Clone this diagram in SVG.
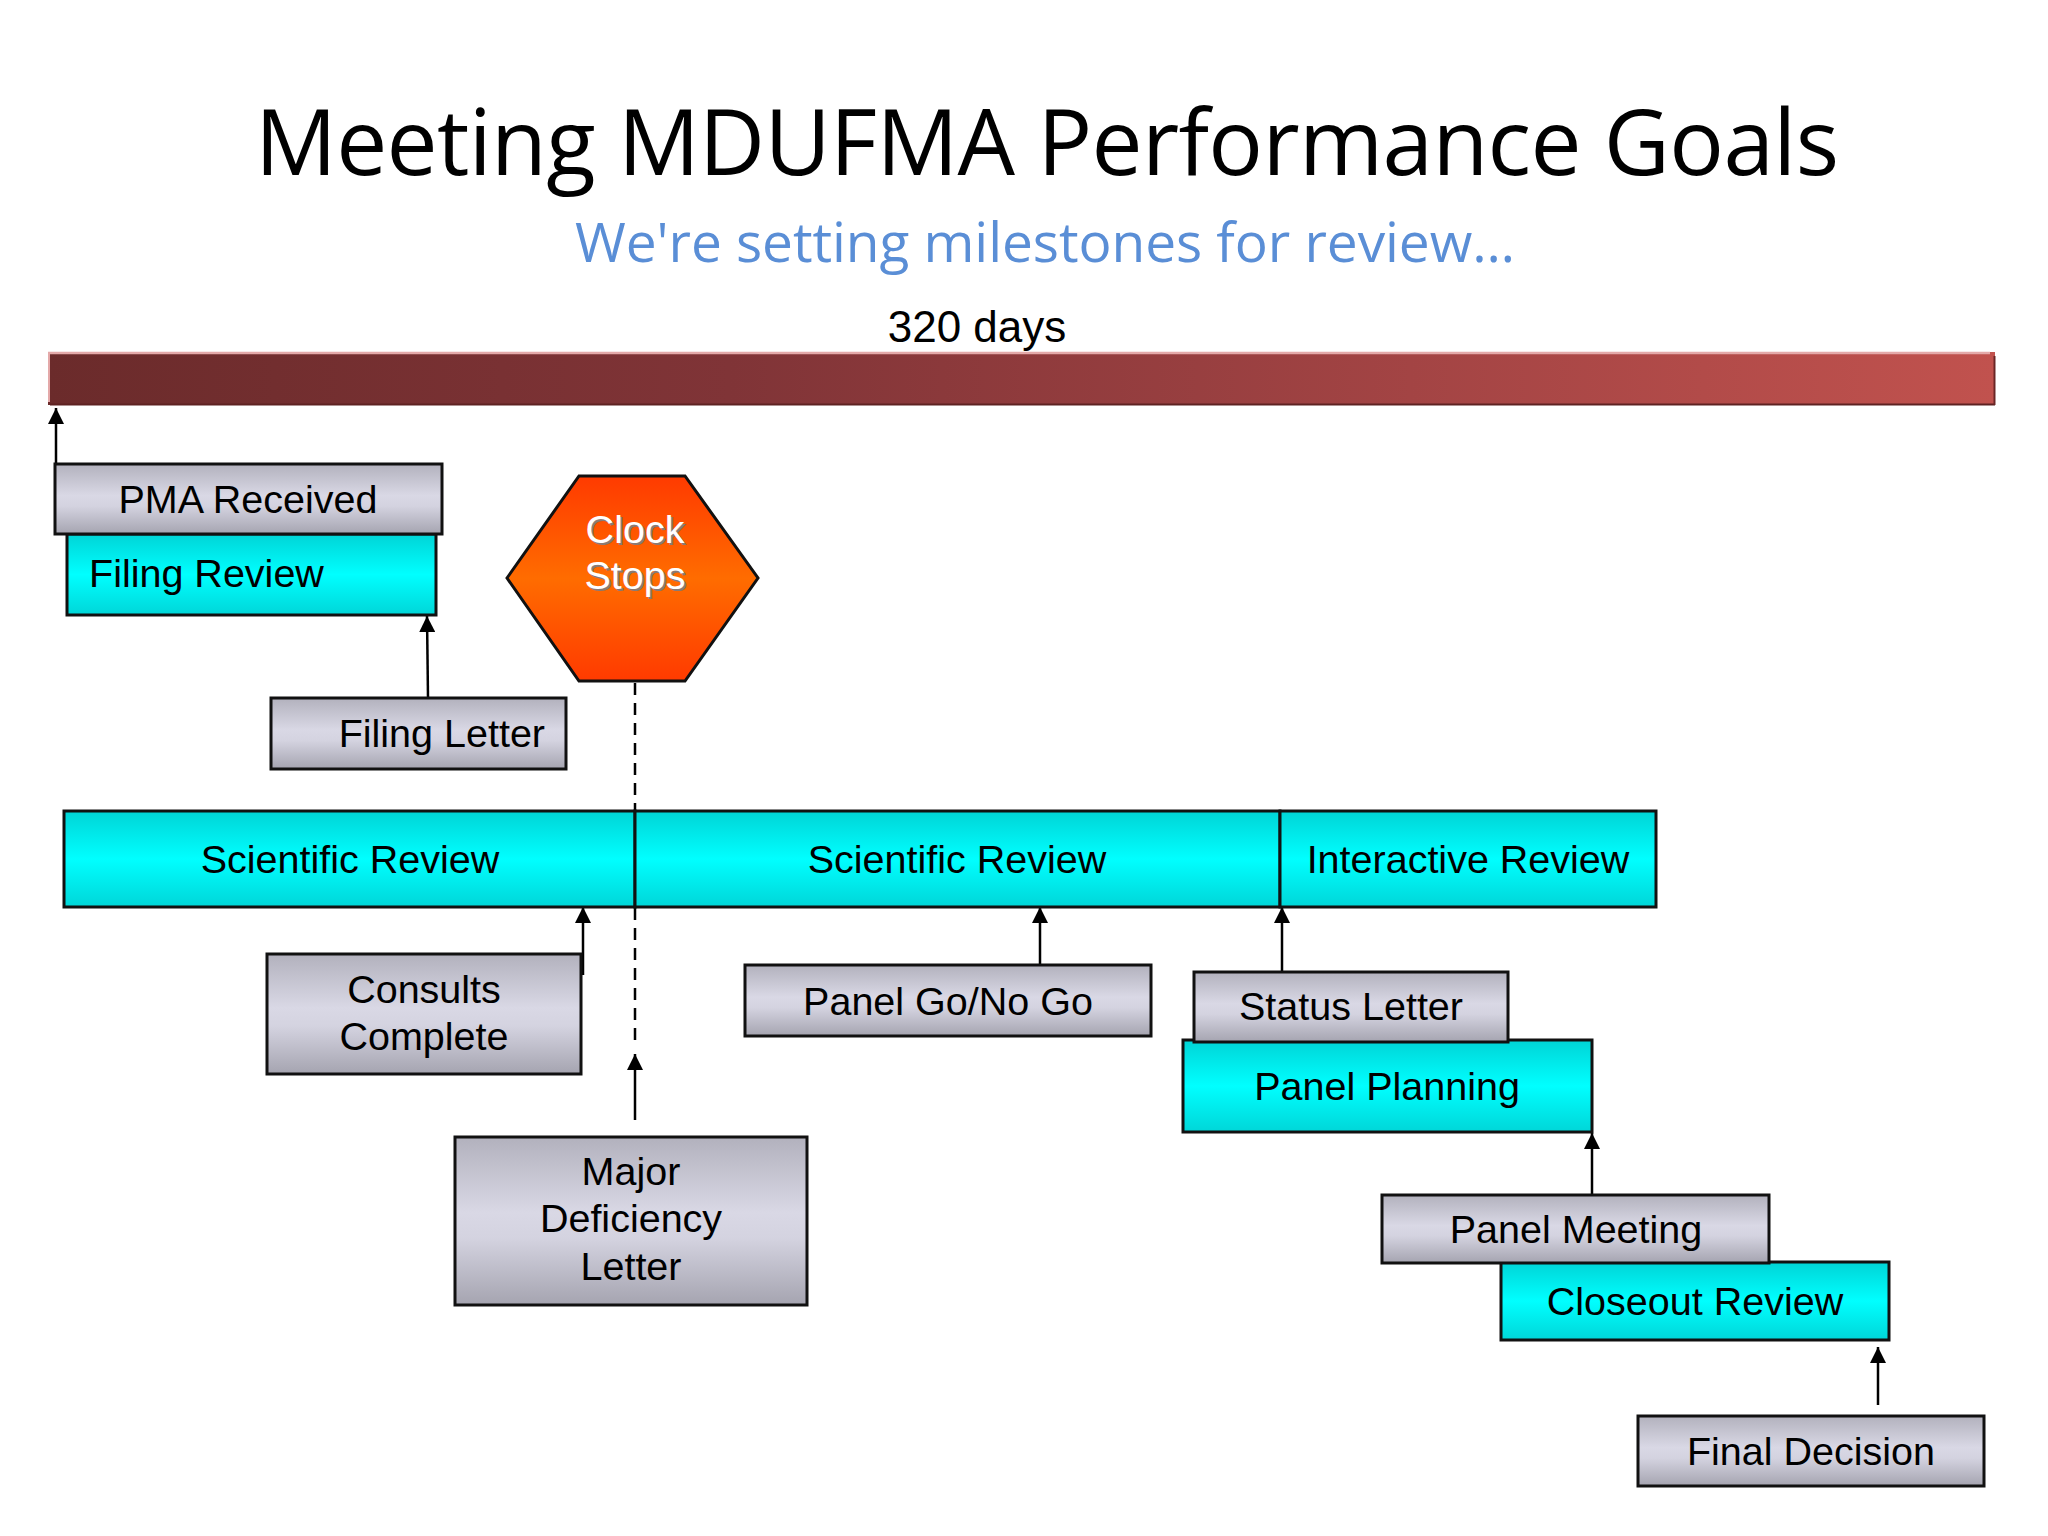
<svg xmlns="http://www.w3.org/2000/svg" width="2048" height="1536" viewBox="0 0 2048 1536">
<defs>
<linearGradient id="gGray" x1="0" y1="0" x2="0" y2="1">
<stop offset="0" stop-color="#b2b1bd"/>
<stop offset="0.45" stop-color="#d9d8e5"/>
<stop offset="0.6" stop-color="#d4d3e0"/>
<stop offset="1" stop-color="#a5a4b0"/>
</linearGradient>
<linearGradient id="gCyan" x1="0" y1="0" x2="0" y2="1">
<stop offset="0" stop-color="#00d4d6"/>
<stop offset="0.5" stop-color="#00ffff"/>
<stop offset="1" stop-color="#00d6d8"/>
</linearGradient>
<linearGradient id="gHex" x1="0" y1="0" x2="0" y2="1">
<stop offset="0" stop-color="#ff3a00"/>
<stop offset="0.5" stop-color="#ff6c00"/>
<stop offset="1" stop-color="#ff3a00"/>
</linearGradient>
<linearGradient id="gBar" x1="0" y1="0" x2="1" y2="0">
<stop offset="0" stop-color="#6b2b2b"/>
<stop offset="0.35" stop-color="#803437"/>
<stop offset="0.7" stop-color="#a34444"/>
<stop offset="1" stop-color="#c1524e"/>
</linearGradient>
<marker id="arr" markerUnits="userSpaceOnUse" markerWidth="16" markerHeight="16" viewBox="0 0 16 16" refX="16" refY="8" orient="auto">
<path d="M0,0 L16,8 L0,16 z" fill="#000"/>
</marker>
<style>
.box{stroke:#111;stroke-width:3}
.gray{fill:url(#gGray)}
.cyan{fill:url(#gCyan)}
.t{font-family:"Liberation Sans",Arial,sans-serif;font-size:39.5px;fill:#000}
.c{text-anchor:middle}
.con{stroke:#000;stroke-width:2.5;fill:none}
.dash{stroke:#000;stroke-width:2.5;fill:none;stroke-dasharray:12 8}
</style>
</defs>
<rect width="2048" height="1536" fill="#ffffff"/>

<g id="title">
<text x="1047" y="175" font-family="'Open Sans','Noto Sans',sans-serif" font-size="91" fill="#000" text-anchor="middle" textLength="1584">Meeting MDUFMA Performance Goals</text>
<text x="1045" y="262" font-family="'Open Sans','Noto Sans',sans-serif" font-size="55" fill="#5a8ed6" text-anchor="middle" textLength="940">We're setting milestones for review…</text>
</g>

<g id="timeline">
<text x="977" y="342" font-family="'Liberation Sans',Arial,sans-serif" font-size="44" fill="#000" text-anchor="middle">320 days</text>
<rect x="48" y="352" width="1947" height="53" fill="url(#gBar)"/>
<line x1="48" y1="353" x2="1990" y2="353" stroke="#e4a9a9" stroke-width="2.5"/>
<line x1="49" y1="352" x2="49" y2="402" stroke="#e4a9a9" stroke-width="2"/>
<line x1="50" y1="404.5" x2="1995" y2="404.5" stroke="#5e2222" stroke-width="2"/>
<line x1="1994.5" y1="356" x2="1994.5" y2="405" stroke="#6a2626" stroke-width="2"/>
</g>

<g id="connectors">
<line class="con" x1="56" y1="464" x2="56" y2="408" marker-end="url(#arr)"/>
<line class="con" x1="428" y1="698" x2="427" y2="616" marker-end="url(#arr)"/>
<line class="dash" x1="635" y1="683" x2="635" y2="810"/>
<line class="dash" x1="635" y1="908" x2="635" y2="1040"/>
<line class="con" x1="583" y1="975" x2="583" y2="907" marker-end="url(#arr)"/>
<line class="con" x1="635" y1="1120" x2="635" y2="1054" marker-end="url(#arr)"/>
<line class="con" x1="1040" y1="965" x2="1040" y2="907" marker-end="url(#arr)"/>
<line class="con" x1="1282" y1="972" x2="1282" y2="907" marker-end="url(#arr)"/>
<line class="con" x1="1592" y1="1195" x2="1592" y2="1133" marker-end="url(#arr)"/>
<line class="con" x1="1878" y1="1405" x2="1878" y2="1347" marker-end="url(#arr)"/>
</g>

<g id="filing-review">
<rect class="box cyan" x="67" y="534" width="369" height="81"/>
<text class="t" x="89" y="587">Filing Review</text>
</g>
<g id="pma-received">
<rect class="box gray" x="55" y="464" width="387" height="70"/>
<text class="t c" x="248" y="513">PMA Received</text>
</g>
<g id="filing-letter">
<rect class="box gray" x="271" y="698" width="295" height="71"/>
<text class="t" x="545" y="747" text-anchor="end">Filing Letter</text>
</g>
<g id="clock-stops">
<polygon points="507,578 579,476 685,476 758,578 685,681 579,681" fill="url(#gHex)" stroke="#111" stroke-width="3"/>
<text class="t c" x="637" y="545" fill="#7a6a66" style="fill:#8a7a74">Clock</text>
<text class="t c" x="637" y="591" style="fill:#8a7a74">Stops</text>
<text class="t c" x="635" y="543" style="fill:#ffffff">Clock</text>
<text class="t c" x="635" y="589" style="fill:#ffffff">Stops</text>
</g>
<g id="scientific-review-1">
<rect class="box cyan" x="64" y="811" width="571" height="96"/>
<text class="t c" x="350" y="873">Scientific Review</text>
</g>
<g id="scientific-review-2">
<rect class="box cyan" x="635" y="811" width="645" height="96"/>
<text class="t c" x="957" y="873">Scientific Review</text>
</g>
<g id="interactive-review">
<rect class="box cyan" x="1280" y="811" width="376" height="96"/>
<text class="t c" x="1468" y="873">Interactive Review</text>
</g>
<g id="consults-complete">
<rect class="box gray" x="267" y="954" width="314" height="120"/>
<text class="t c" x="424" y="1003">Consults</text>
<text class="t c" x="424" y="1050">Complete</text>
</g>
<g id="major-deficiency-letter">
<rect class="box gray" x="455" y="1137" width="352" height="168"/>
<text class="t c" x="631" y="1185">Major</text>
<text class="t c" x="631" y="1232">Deficiency</text>
<text class="t c" x="631" y="1280">Letter</text>
</g>
<g id="panel-go-no-go">
<rect class="box gray" x="745" y="965" width="406" height="71"/>
<text class="t c" x="948" y="1015">Panel Go/No Go</text>
</g>
<g id="panel-planning">
<rect class="box cyan" x="1183" y="1040" width="409" height="92"/>
<text class="t c" x="1387" y="1100">Panel Planning</text>
</g>
<g id="status-letter">
<rect class="box gray" x="1194" y="972" width="314" height="70"/>
<text class="t c" x="1351" y="1020">Status Letter</text>
</g>
<g id="closeout-review">
<rect class="box cyan" x="1501" y="1262" width="388" height="78"/>
<text class="t c" x="1695" y="1315">Closeout Review</text>
</g>
<g id="panel-meeting">
<rect class="box gray" x="1382" y="1195" width="387" height="68"/>
<text class="t c" x="1576" y="1243">Panel Meeting</text>
</g>
<g id="final-decision">
<rect class="box gray" x="1638" y="1416" width="346" height="70"/>
<text class="t c" x="1811" y="1465">Final Decision</text>
</g>
</svg>
